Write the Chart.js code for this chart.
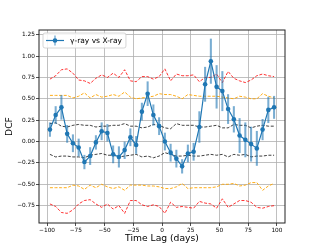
<!DOCTYPE html>
<html>
<head>
<meta charset="utf-8">
<script src="https://cdn.jsdelivr.net/npm/chart.js@4.4.1/dist/chart.umd.min.js"></script>
<style>
    html, body { margin: 0; padding: 0; background: #ffffff; }
</style>
</head>
<body>
<canvas id="dcfChart" width="317" height="251"></canvas>
<script>
/* ================= DATA ================= */

const lags = [
    -97.5, -92.5, -87.5, -82.5, -77.5, -72.5, -67.5, -62.5, -57.5, -52.5,
    -47.5, -42.5, -37.5, -32.5, -27.5, -22.5, -17.5, -12.5, -7.5, -2.5,
    2.5, 7.5, 12.5, 17.5, 22.5, 27.5, 32.5, 37.5, 42.5, 47.5,
    52.5, 57.5, 62.5, 67.5, 72.5, 77.5, 82.5, 87.5, 92.5, 97.5
];

const dcf = [
    0.14, 0.31, 0.40, 0.09, -0.02, -0.07, -0.24, -0.17, -0.01, 0.12,
    0.10, -0.15, -0.18, -0.10, 0.05, -0.04, 0.35, 0.56, 0.31, 0.18,
    0.00, -0.13, -0.20, -0.29, -0.14, -0.12, 0.17, 0.67, 0.94, 0.64,
    0.59, 0.38, 0.26, 0.07, 0.02, -0.03, -0.08, 0.14, 0.37, 0.40
];

const dcfErr = [
    0.08, 0.10, 0.14, 0.10, 0.10, 0.10, 0.08, 0.10, 0.08, 0.10,
    0.10, 0.10, 0.12, 0.10, 0.10, 0.10, 0.10, 0.14, 0.12, 0.10,
    0.10, 0.10, 0.10, 0.08, 0.10, 0.10, 0.18, 0.20, 0.26, 0.25,
    0.23, 0.17, 0.15, 0.20, 0.20, 0.20, 0.20, 0.12, 0.15, 0.13
];

const upper99 = [
    0.73, 0.77, 0.84, 0.85, 0.80, 0.72, 0.71, 0.68, 0.74, 0.78,
    0.75, 0.80, 0.75, 0.84, 0.71, 0.70, 0.76, 0.76, 0.73, 0.76,
    0.85, 0.71, 0.79, 0.77, 0.77, 0.78, 0.70, 0.75, 0.75, 0.79,
    0.69, 0.82, 0.74, 0.71, 0.69, 0.72, 0.77, 0.79, 0.77, 0.76
];

const upper95 = [
    0.54, 0.54, 0.54, 0.54, 0.51, 0.53, 0.57, 0.51, 0.55, 0.52,
    0.53, 0.55, 0.53, 0.58, 0.52, 0.50, 0.51, 0.52, 0.53, 0.56,
    0.55, 0.55, 0.53, 0.50, 0.55, 0.54, 0.53, 0.53, 0.53, 0.53,
    0.52, 0.51, 0.50, 0.53, 0.52, 0.50, 0.50, 0.56, 0.53, 0.51
];

const upper68 = [
    0.21, 0.22, 0.18, 0.17, 0.19, 0.20, 0.19, 0.19, 0.17, 0.18,
    0.18, 0.19, 0.19, 0.21, 0.18, 0.18, 0.16, 0.17, 0.20, 0.19,
    0.16, 0.15, 0.21, 0.19, 0.19, 0.19, 0.17, 0.17, 0.18, 0.19,
    0.16, 0.16, 0.20, 0.19, 0.19, 0.16, 0.18, 0.19, 0.18, 0.18
];

const lower68 = [
    -0.15, -0.18, -0.17, -0.17, -0.18, -0.18, -0.19, -0.16, -0.15, -0.14,
    -0.16, -0.16, -0.18, -0.17, -0.16, -0.15, -0.18, -0.17, -0.19, -0.17,
    -0.13, -0.15, -0.17, -0.17, -0.16, -0.17, -0.17, -0.16, -0.15, -0.16,
    -0.15, -0.18, -0.15, -0.16, -0.15, -0.18, -0.17, -0.17, -0.16, -0.16
];

const lower95 = [
    -0.54, -0.54, -0.54, -0.54, -0.51, -0.52, -0.56, -0.51, -0.54, -0.50,
    -0.53, -0.55, -0.53, -0.57, -0.51, -0.51, -0.51, -0.52, -0.52, -0.53,
    -0.55, -0.55, -0.53, -0.49, -0.55, -0.54, -0.54, -0.54, -0.54, -0.53,
    -0.50, -0.50, -0.49, -0.52, -0.51, -0.48, -0.48, -0.57, -0.52, -0.49
];

const lower99 = [
    -0.73, -0.76, -0.83, -0.84, -0.80, -0.73, -0.69, -0.68, -0.73, -0.77,
    -0.73, -0.79, -0.75, -0.84, -0.69, -0.69, -0.74, -0.76, -0.74, -0.76,
    -0.84, -0.71, -0.77, -0.76, -0.77, -0.78, -0.70, -0.72, -0.73, -0.78,
    -0.67, -0.77, -0.73, -0.69, -0.69, -0.71, -0.77, -0.78, -0.76, -0.75
];

const xTicks = [-100, -75, -50, -25, 0, 25, 50, 75, 100];
const yTicks = [-0.75, -0.5, -0.25, 0, 0.25, 0.5, 0.75, 1.0, 1.25];

const seriesLabel = "\u03b3-ray vs X-ray";

/* ================= HELPERS ================= */

const FONT = "'DejaVu Sans', sans-serif";
const BLUE = "#1f77b4";
const ERR_BLUE = "rgba(31,119,180,0.6)";

function points(ys) {
    return lags.map((x, i) => ({ x: x, y: ys[i] }));
}

function band(ys, color) {
    return {
        label: "band",
        data: points(ys),
        borderColor: color,
        borderWidth: 1,
        borderDash: [3, 1.6],
        pointRadius: 0,
        pointHoverRadius: 0,
        fill: false,
        tension: 0,
        order: 3
    };
}

function minus(s) {
    return s.replace("-", "\u2212");
}

/* ================= PLUGINS ================= */

// matplotlib-style box around the axes + legend in the upper left corner
const frame = {
    id: "frame",
    afterDatasetsDraw(chart) {
        const a = chart.chartArea;
        const ctx = chart.ctx;
        ctx.save();
        ctx.strokeStyle = "#222222";
        ctx.lineWidth = 1;
        ctx.strokeRect(a.left, a.top, a.right - a.left, a.bottom - a.top);
        ctx.restore();
    },
    afterDraw(chart) {
        const a = chart.chartArea;
        const ctx = chart.ctx;
        const x0 = a.left + 4;
        const y0 = a.top + 3;
        const h = 15;
        const cy = y0 + h / 2;

        ctx.save();
        ctx.font = "7.5px " + FONT;
        const tw = ctx.measureText(seriesLabel).width;

        ctx.beginPath();
        ctx.roundRect(x0, y0, 27 + tw + 4, h, 2);
        ctx.fillStyle = "rgba(255,255,255,0.85)";
        ctx.fill();
        ctx.strokeStyle = "#cccccc";
        ctx.lineWidth = 0.8;
        ctx.stroke();

        // errorbar, line, dot
        ctx.strokeStyle = ERR_BLUE;
        ctx.lineWidth = 1.4;
        ctx.beginPath();
        ctx.moveTo(x0 + 12, cy - 5);
        ctx.lineTo(x0 + 12, cy + 5);
        ctx.stroke();
        ctx.strokeStyle = BLUE;
        ctx.lineWidth = 1.2;
        ctx.beginPath();
        ctx.moveTo(x0 + 3, cy);
        ctx.lineTo(x0 + 21, cy);
        ctx.stroke();
        ctx.fillStyle = BLUE;
        ctx.beginPath();
        ctx.arc(x0 + 12, cy, 2.3, 0, Math.PI * 2);
        ctx.fill();

        ctx.fillStyle = "#000000";
        ctx.textBaseline = "middle";
        ctx.fillText(seriesLabel, x0 + 27, cy + 0.5);
        ctx.restore();
    }
};

/* ================= DCF CHART ================= */

new Chart(document.getElementById("dcfChart"), {

    type: "line",

    data: {
        datasets: [
            {
                label: seriesLabel,
                data: points(dcf),
                borderColor: BLUE,
                backgroundColor: BLUE,
                borderWidth: 1.2,
                pointRadius: 2.3,
                pointHoverRadius: 2.3,
                pointBorderWidth: 0,
                tension: 0,
                order: 0
            },
            {
                type: "bar",
                label: "err",
                data: lags.map((x, i) => ({ x: x, y: [dcf[i] - dcfErr[i], dcf[i] + dcfErr[i]] })),
                backgroundColor: ERR_BLUE,
                barThickness: 1.4,
                grouped: false,
                order: 1
            },
            band(upper99, "rgba(255,0,0,0.8)"),
            band(upper95, "rgba(255,165,0,0.9)"),
            band(upper68, "rgba(0,0,0,0.75)"),
            band(lower68, "rgba(0,0,0,0.75)"),
            band(lower95, "rgba(255,165,0,0.9)"),
            band(lower99, "rgba(255,0,0,0.8)")
        ]
    },

    plugins: [frame],

    options: {
        responsive: false,
        animation: false,
        events: [],

        layout: {
            padding: { left: 0, top: 30, right: 32, bottom: 0 }
        },

        plugins: {
            tooltip: { enabled: false },
            legend: { display: false }
        },

        scales: {
            x: {
                type: "linear",
                min: -107,
                max: 107,
                offset: false,
                afterBuildTicks: (s) => { s.ticks = xTicks.map((v) => ({ value: v })); },
                afterFit: (s) => { s.height = 28; },
                ticks: {
                    callback: (v) => minus(String(v)),
                    color: "#000000",
                    font: { family: FONT, size: 5.8 },
                    padding: 1,
                    maxRotation: 0,
                    autoSkip: false
                },
                grid: {
                    color: "#b0b0b0",
                    lineWidth: 0.8,
                    offset: false,
                    tickLength: 3,
                    tickColor: "#222222",
                    tickWidth: 0.8
                },
                border: { display: false },
                title: {
                    display: true,
                    text: "Time Lag (days)",
                    color: "#000000",
                    font: { family: FONT, size: 9.2 },
                    padding: { top: 0, bottom: 7 }
                }
            },
            y: {
                min: -0.953,
                max: 1.305,
                afterBuildTicks: (s) => { s.ticks = yTicks.map((v) => ({ value: v })); },
                afterFit: (s) => { s.width = 39; },
                ticks: {
                    callback: (v) => minus(v.toFixed(2)),
                    color: "#000000",
                    font: { family: FONT, size: 5.8 },
                    padding: 1
                },
                grid: {
                    color: "#b0b0b0",
                    lineWidth: 0.8,
                    tickLength: 3,
                    tickColor: "#222222",
                    tickWidth: 0.8
                },
                border: { display: false },
                title: {
                    display: true,
                    text: "DCF",
                    color: "#000000",
                    font: { family: FONT, size: 9.2 },
                    padding: { top: 4, bottom: 0 }
                }
            }
        }
    }

});
</script>
</body>
</html>
